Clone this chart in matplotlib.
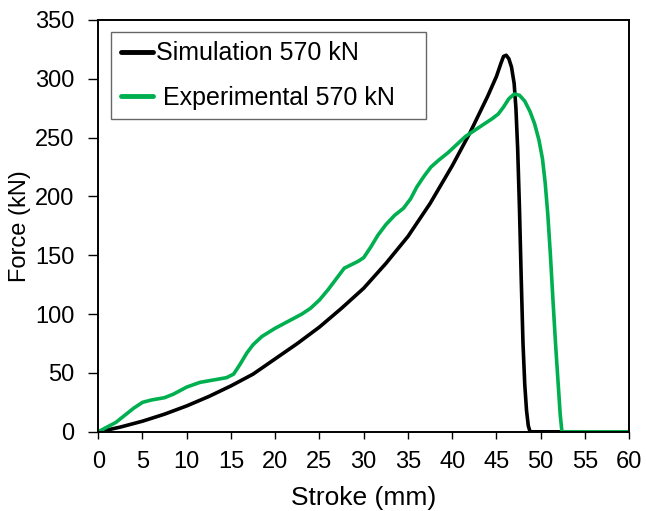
import matplotlib
matplotlib.use("Agg")
import matplotlib.pyplot as plt

plt.rcParams['font.family'] = ['Liberation Sans', 'DejaVu Sans']

# Simulation 570 kN (black)
sim_x = [0, 1, 2.5, 5, 7.5, 10, 12.5, 15, 17.5, 20, 22.5, 25, 27.5, 30, 32.5, 35,
         37.5, 40, 42, 44, 45, 45.5, 45.8, 46.1, 46.4, 46.7, 47.0, 47.2, 47.4, 47.6,
         47.8, 48.0, 48.2, 48.4, 48.6, 48.8, 55]
sim_y = [0, 1.5, 4, 9, 15, 22, 30, 39, 49, 62, 75, 89, 105, 122, 143, 166,
         194, 226, 254, 285, 302, 313, 319, 320, 317, 310, 296, 275, 240, 190,
         130, 75, 40, 18, 5, 0, 0]

# Experimental 570 kN (green)
exp_x = [0, 1, 2, 3, 4, 5, 6, 7.5, 8.5, 10, 11.5, 13, 14.5, 15.3, 16, 16.8, 17.5, 18.5,
         20, 21, 22, 23, 24, 25, 26, 27, 27.8, 28.6, 29.4, 30, 30.8, 31.6, 32.5, 33.5,
         34.5, 35.3, 36, 36.8, 37.6, 38.5, 39.5, 40.5, 41.5, 42.5, 43.5, 44.5, 45.2,
         45.8, 46.4, 47.0, 47.6, 48.2, 48.8, 49.3, 49.8, 50.2, 50.5, 50.8, 51.1,
         51.4, 51.7, 52.0, 52.2, 52.4, 60]
exp_y = [0, 4, 8, 14, 20, 25, 27, 29, 32, 38, 42, 44, 46, 49, 57, 67, 74, 81,
         88, 92, 96, 100, 105, 112, 121, 131, 139, 142, 145, 148, 157, 167, 176, 184,
         190, 198, 208, 217, 225, 231, 237, 244, 251, 256, 261, 266, 270,
         276, 283, 287, 286, 281, 272, 262, 248, 232, 212, 185, 150,
         110, 72, 38, 15, 0, 0]

x_ticks = list(range(0, 61, 5))
y_ticks = list(range(0, 351, 50))

fig = plt.figure(figsize=(6.46, 5.11), dpi=100)
ax = fig.add_axes([0.152, 0.155, 0.822, 0.806])

ax.plot(sim_x, sim_y, color='black', lw=2.6, label='Simulation 570 kN',
        solid_capstyle='round', solid_joinstyle='round')
ax.plot(exp_x, exp_y, color='#00B050', lw=2.6, label=' Experimental 570 kN',
        solid_capstyle='round', solid_joinstyle='round')

ax.set_xlim(0, 60)
ax.set_ylim(0, 350)
ax.set_xticks(x_ticks)
ax.set_yticks(y_ticks)
ax.tick_params(axis='x', direction='out', length=5, width=1, labelsize=17, pad=9)
ax.tick_params(axis='y', direction='out', length=7, width=1, labelsize=17, pad=10)
for s in ax.spines.values():
    s.set_linewidth(1.4)
    s.set_color('black')

ax.set_xlabel('Stroke (mm)', fontsize=19, labelpad=9)
ax.set_ylabel('Force (kN)', fontsize=17, labelpad=3)

# legend box spans roughly x 111..426 px, y 32..120 px
leg = ax.legend(loc='upper left', bbox_to_anchor=(0.0245, 0.971, 0.593, 0.0),
                mode='expand', borderaxespad=0,
                fontsize=18, frameon=True, fancybox=False, edgecolor='#404040',
                handlelength=1.3, handletextpad=0.1, borderpad=0.38,
                labelspacing=0.82)
leg.get_frame().set_linewidth(1.0)
for line in leg.get_lines():
    line.set_linewidth(3.5)

fig.savefig('out.png', dpi=100)
